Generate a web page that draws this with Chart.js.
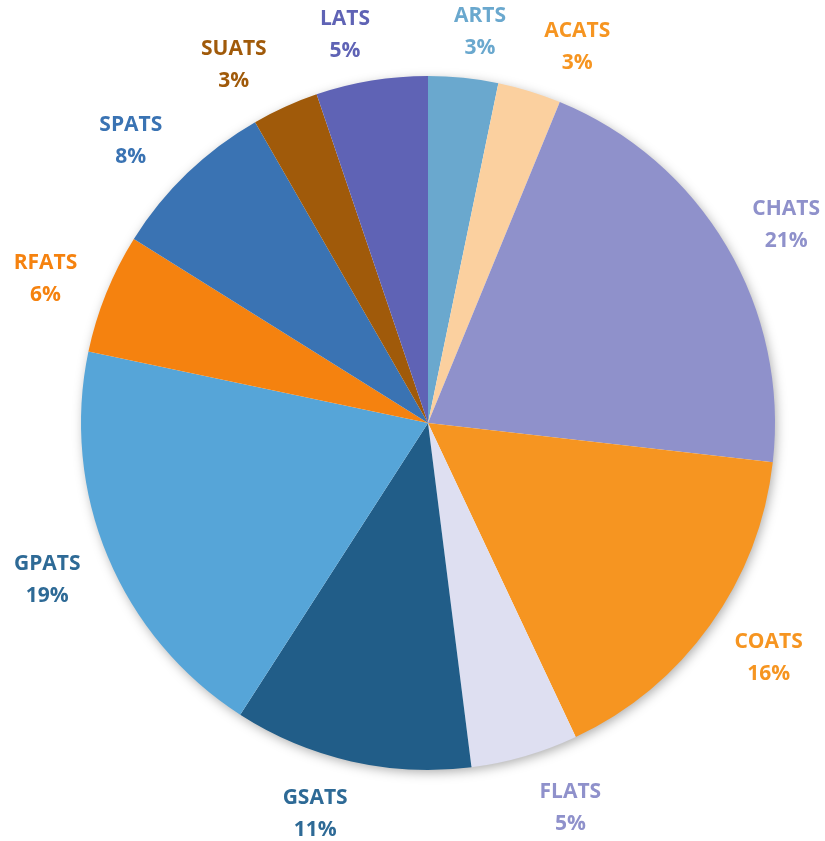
<!DOCTYPE html>
<html>
<head>
<meta charset="utf-8">
<script src="https://cdn.jsdelivr.net/npm/chart.js@4/dist/chart.umd.min.js"></script>
<style>
  html, body { margin: 0; padding: 0; background: #fff; }
  #wrap { width: 825px; height: 841px; }
</style>
</head>
<body>
<div id="wrap"><canvas id="pie" width="825" height="841"></canvas></div>
<script>
// categories, clockwise from 12 o'clock
const categories = ["ARTS", "ACATS", "CHATS", "COATS", "FLATS", "GSATS", "GPATS", "RFATS", "SPATS", "SUATS", "LATS"];
// share of the whole
const shares = [3.25, 2.95, 20.6, 16.2, 5.0, 11.1, 19.2, 5.6, 7.8, 3.1, 5.2];

const sliceColors = ["#6aa8ce", "#fbd09f", "#8f91cb", "#f69521", "#dedff1", "#215d88",
                     "#56a5d8", "#f5820f", "#3a73b3", "#a05a0a", "#5f63b5"];
const labelColors = ["#6aa8ce", "#f69521", "#8f91cb", "#f69521", "#8f91cb", "#2e6a96",
                     "#2e6a96", "#f5820f", "#3a73b3", "#a05a0a", "#5f63b5"];

const total = shares.reduce((a, b) => a + b, 0);
const pct = v => Math.round(v / total * 100) + "%";

/* ----------------------------------------------------------
   soft shadow under the whole pie
---------------------------------------------------------- */
const pieShadow = {
  id: "pieShadow",
  beforeDatasetsDraw(chart) {
    const arc = chart.getDatasetMeta(0).data[0];
    if (!arc) return;
    const { x, y, outerRadius } = arc.getProps(["x", "y", "outerRadius"], true);
    const ctx = chart.ctx;
    ctx.save();
    ctx.shadowColor = "rgba(0,0,0,0.35)";
    ctx.shadowBlur = 12;
    ctx.shadowOffsetX = 2;
    ctx.shadowOffsetY = 3;
    ctx.fillStyle = "#fff";
    ctx.beginPath();
    ctx.arc(x, y, outerRadius - 1, 0, Math.PI * 2);
    ctx.fill();
    ctx.restore();
  }
};

/* ----------------------------------------------------------
   outside labels: name + percent, two lines
   (anchor just outside the rim, box pushed off to the side)
---------------------------------------------------------- */
const clamp = (v, lo, hi) => Math.max(lo, Math.min(hi, v));

const outsideLabels = {
  id: "outsideLabels",
  afterDatasetsDraw(chart) {
    const ctx = chart.ctx;
    const meta = chart.getDatasetMeta(0);
    ctx.save();
    ctx.font = "bold 21px 'Open Sans', sans-serif";
    ctx.textAlign = "center";
    ctx.textBaseline = "middle";
    meta.data.forEach((arc, i) => {
      const p = arc.getProps(["x", "y", "startAngle", "endAngle", "outerRadius"], true);
      const mid = (p.startAngle + p.endAngle) / 2;
      const c = Math.cos(mid), s = Math.sin(mid);
      const r = p.outerRadius + 18;
      const cx = p.x + c * r + 44 * clamp(c * 3.3, -1, 1);
      const cy = p.y + s * r + 32 * s + 3;
      ctx.fillStyle = labelColors[i];
      ctx.fillText(categories[i], cx, cy - 15);
      ctx.fillText(pct(shares[i]), cx, cy + 17);
    });
    ctx.restore();
  }
};

new Chart(document.getElementById("pie"), {
  type: "pie",
  data: {
    labels: categories,
    datasets: [{
      data: shares,
      backgroundColor: sliceColors,
      borderWidth: 0
    }]
  },
  options: {
    responsive: false,
    animation: false,
    radius: 347,
    layout: { padding: { left: 60, right: 29, top: 60, bottom: 55 } },
    plugins: {
      legend: { display: false },
      tooltip: { enabled: false }
    }
  },
  plugins: [pieShadow, outsideLabels]
});
</script>
</body>
</html>
